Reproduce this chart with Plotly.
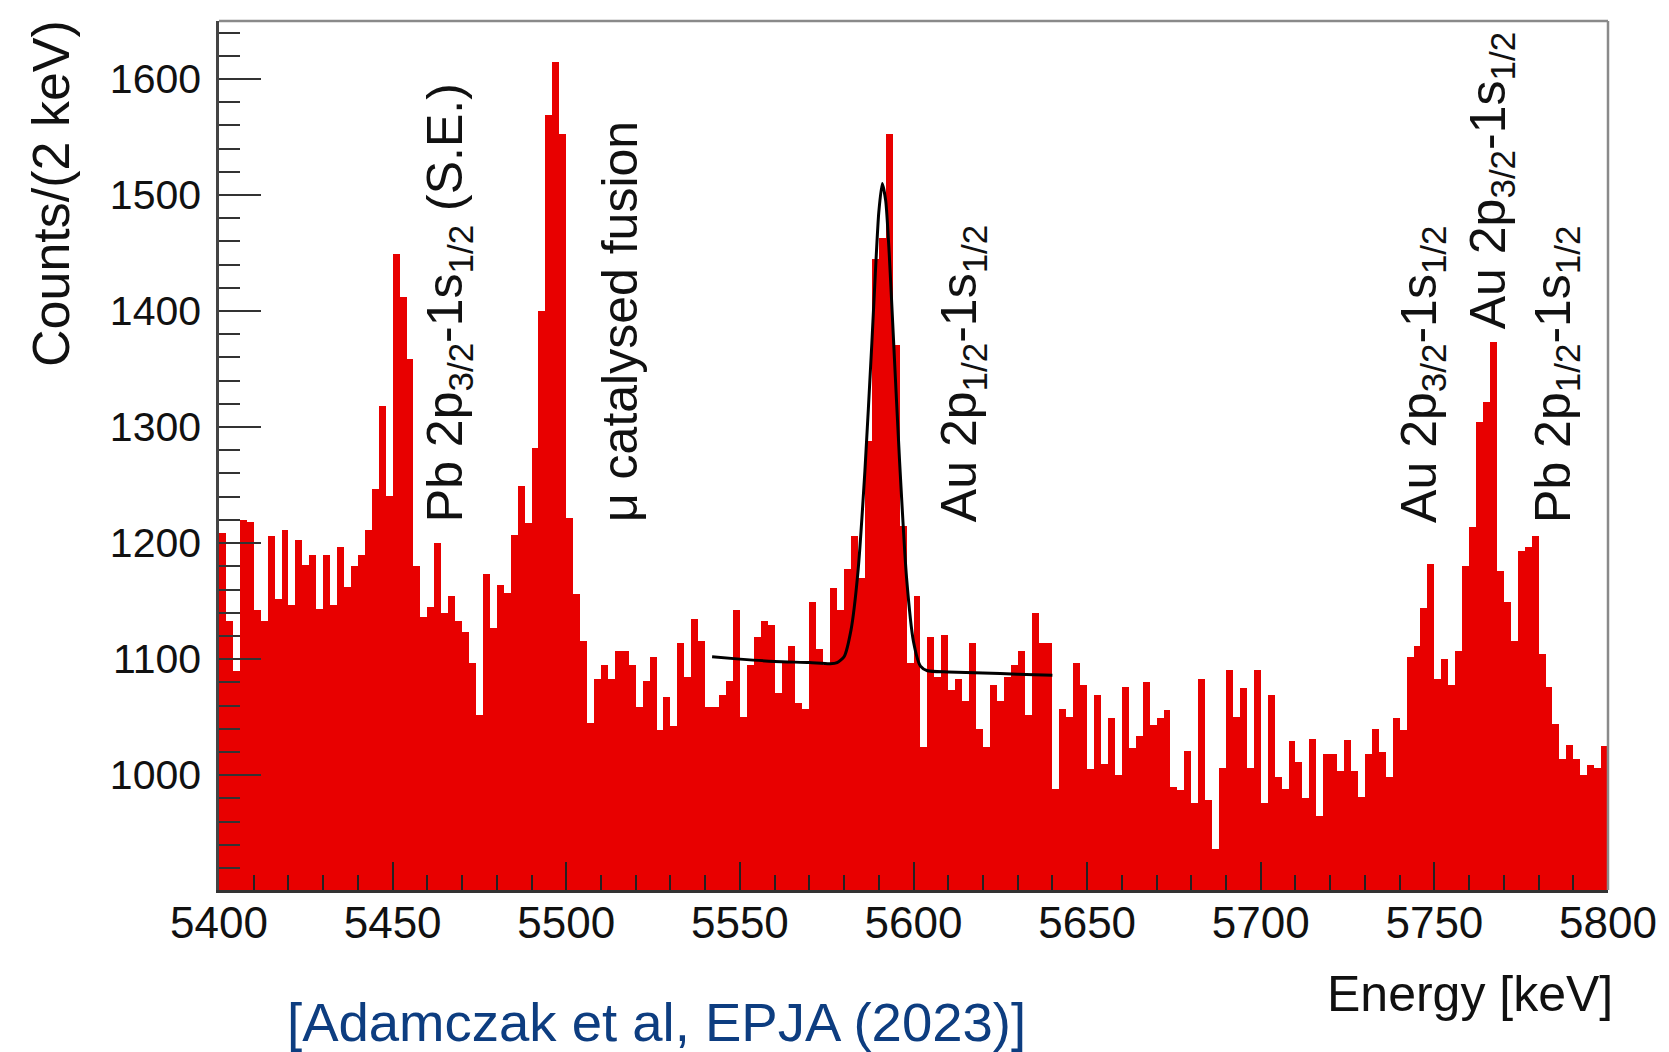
import plotly.graph_objects as go

# Histogram: 2 keV bins from 5400 to 5800 keV
bin_low_edge = 5400
bin_width = 2
counts = [
    1209, 1133, 1090, 1220, 1218, 1142, 1133, 1206, 1152, 1211,
    1147, 1203, 1181, 1190, 1143, 1190, 1147, 1197, 1162, 1180,
    1190, 1211, 1247, 1318, 1241, 1449, 1412, 1359, 1180, 1136,
    1145, 1200, 1140, 1154, 1133, 1123, 1097, 1052, 1173, 1127,
    1164, 1157, 1207, 1249, 1217, 1282, 1400, 1569, 1615, 1553,
    1222, 1156, 1116, 1045, 1083, 1095, 1083, 1107, 1107, 1095,
    1059, 1081, 1102, 1039, 1067, 1042, 1114, 1085, 1135, 1116,
    1059, 1059, 1069, 1081, 1142, 1050, 1095, 1119, 1133, 1129,
    1071, 1097, 1111, 1062, 1057, 1149, 1109, 1095, 1161, 1142,
    1178, 1206, 1170, 1288, 1445, 1463, 1553, 1371, 1215, 1097,
    1154, 1024, 1119, 1085, 1121, 1073, 1083, 1064, 1114, 1040,
    1024, 1078, 1064, 1085, 1095, 1107, 1052, 1140, 1114, 1114,
    988, 1057, 1050, 1097, 1078, 1005, 1069, 1010, 1049, 1000,
    1076, 1023, 1034, 1080, 1043, 1049, 1056, 990, 987, 1021,
    976, 1083, 979, 936, 1006, 1091, 1050, 1075, 1006, 1091,
    976, 1069, 998, 988, 1029, 1011, 980, 1031, 965, 1018,
    1018, 1004, 1030, 1004, 981, 1018, 1040, 1020, 998, 1049,
    1039, 1102, 1111, 1144, 1182, 1083, 1100, 1078, 1107, 1180,
    1214, 1304, 1322, 1373, 1176, 1149, 1116, 1193, 1197, 1206,
    1104, 1076, 1044, 1014, 1026, 1014, 1000, 1009, 1006, 1025,
]
bin_centers = [bin_low_edge + bin_width * (i + 0.5) for i in range(len(counts))]

# Peak fit (Gaussian on linear background), sampled along the curve
fit_energy = [5542, 5550, 5560, 5570, 5576, 5578, 5580, 5582, 5584, 5586,
              5588, 5589, 5590, 5591, 5592, 5593, 5594, 5596, 5598, 5600,
              5602, 5604, 5610, 5620, 5630, 5640]
fit_counts = [1102, 1100, 1098, 1097, 1096, 1097, 1102, 1125, 1175, 1262,
              1372, 1432, 1485, 1510, 1495, 1450, 1390, 1270, 1170, 1115,
              1094, 1090, 1089, 1088, 1087, 1086]

# Transition labels
label_texts = [
    "Pb 2p<sub>3/2</sub>-1s<sub>1/2</sub> (S.E.)",
    "\u03bc catalysed fusion",
    "Au 2p<sub>1/2</sub>-1s<sub>1/2</sub>",
    "Au 2p<sub>3/2</sub>-1s<sub>1/2</sub>",
    "Au 2p<sub>3/2</sub>-1s<sub>1/2</sub>",
    "Pb 2p<sub>1/2</sub>-1s<sub>1/2</sub>",
]
label_energy = [5466.0, 5515.5, 5614.0, 5746.4, 5766.3, 5785.0]
label_base = [1216, 1216, 1216, 1216, 1383, 1216]

x_ticks = [5400, 5450, 5500, 5550, 5600, 5650, 5700, 5750, 5800]
y_ticks = [1000, 1100, 1200, 1300, 1400, 1500, 1600]

FONT = "Liberation Sans, Arial, sans-serif"
RED = "#e80000"

fig = go.Figure()
fig.add_trace(go.Bar(
    x=bin_centers, y=counts, width=bin_width,
    marker=dict(color=RED, line=dict(width=0)),
    showlegend=False, hoverinfo="x+y",
))
fig.add_trace(go.Scatter(
    x=fit_energy, y=fit_counts, mode="lines",
    line=dict(color="black", width=3, shape="spline", smoothing=0.6),
    showlegend=False,
))

for txt, xe, yb in zip(label_texts, label_energy, label_base):
    fig.add_annotation(
        x=xe, y=yb, xref="x", yref="y", text=txt, textangle=-90,
        showarrow=False, xanchor="center", yanchor="bottom",
        font=dict(family=FONT, size=50, color="#111"),
    )

# Axis titles and citation
fig.add_annotation(
    x=-0.121, y=1.004, xref="paper", yref="paper", text="Counts/(2 keV)",
    textangle=-90, showarrow=False, xanchor="center", yanchor="top",
    font=dict(family=FONT, size=52, color="#111"),
)
fig.add_annotation(
    x=1.005, y=-0.1196, xref="paper", yref="paper", text="Energy [keV]",
    showarrow=False, xanchor="right", yanchor="middle",
    font=dict(family=FONT, size=50, color="#111"),
)
fig.add_annotation(
    x=0.315, y=-0.1525, xref="paper", yref="paper",
    text="[Adamczak et al, EPJA (2023)]",
    showarrow=False, xanchor="center", yanchor="middle",
    font=dict(family=FONT, size=54.5, color="#0d3d80"),
)

# Frame top and right edges
fig.add_shape(type="line", xref="paper", yref="paper", x0=0, x1=1, y0=1, y1=1,
              line=dict(color="#8a8a8a", width=2.5))
fig.add_shape(type="line", xref="paper", yref="paper", x0=1, x1=1, y0=0, y1=1,
              line=dict(color="#8a8a8a", width=2.5))

fig.update_xaxes(
    range=[5400, 5800], tickvals=x_ticks, ticks="inside", ticklen=28,
    tickwidth=2, tickcolor="#222", showline=True, linecolor="#333", linewidth=2.5,
    minor=dict(dtick=10, tick0=5400, ticks="inside", ticklen=15, tickwidth=2,
               tickcolor="#222"),
    showgrid=False, zeroline=False, ticklabelstandoff=-8,
    tickfont=dict(family=FONT, size=44, color="#111"),
)
fig.update_yaxes(
    range=[901, 1650], tickvals=y_ticks, ticks="inside", ticklen=42,
    tickwidth=2, tickcolor="#333", showline=True, linecolor="#444", linewidth=2.5,
    minor=dict(dtick=20, tick0=1000, ticks="inside", ticklen=21, tickwidth=2,
               tickcolor="#333"),
    showgrid=False, zeroline=False, ticklabelstandoff=7,
    tickfont=dict(family=FONT, size=41, color="#111"),
)
fig.update_layout(
    width=1669, height=1052,
    margin=dict(l=219, r=59, t=21, b=162),
    paper_bgcolor="white", plot_bgcolor="white",
    bargap=0, showlegend=False,
)

fig.write_html("out.html")
